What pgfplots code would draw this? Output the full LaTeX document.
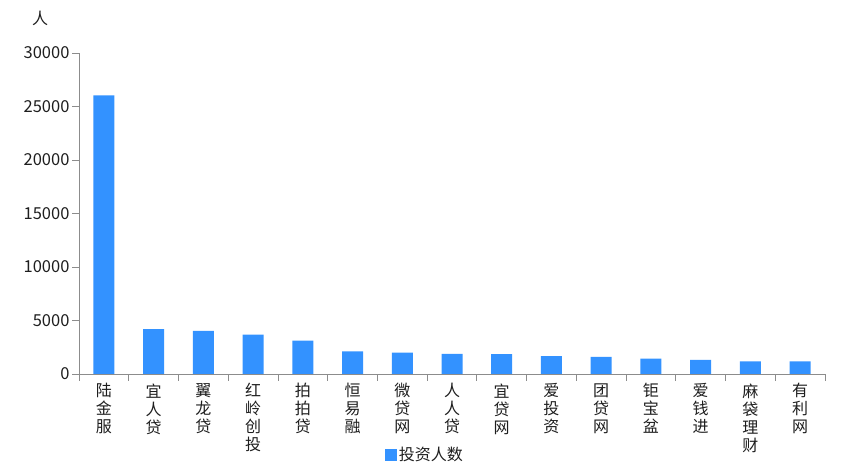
\documentclass[border=0pt]{standalone}
\usepackage{pgfplots}
\pgfplotsset{compat=1.18}
\usepackage{fontspec}
\setmainfont{Noto Sans CJK SC}
\definecolor{barblue}{RGB}{51,146,255}
\definecolor{axisgray}{RGB}{140,140,140}
\definecolor{txt}{RGB}{30,30,30}
\begin{document}
\begin{tikzpicture}
\useasboundingbox (-79pt,-102pt) rectangle (773pt,374pt);
\begin{axis}[
scale only axis,
width=746pt,
height=321pt,
axis lines*=left,
axis line style={axisgray, line width=0.8pt},
xmin=-0.5, xmax=14.5,
ymin=0, ymax=30000,
ytick={0,5000,...,30000},
scaled y ticks=false,
/pgf/number format/1000 sep={},
/pgf/number format/assume math mode=true,
tick align=outside,
major tick length=7pt,
minor tick length=7pt,
every tick/.style={axisgray, line width=0.8pt},
xtick={0,...,14},
major x tick style={draw=none},
minor xtick={-0.5,0.5,...,14.5},
xticklabels={陆\\金\\服,宜\\人\\贷,翼\\龙\\贷,红\\岭\\创\\投,拍\\拍\\贷,恒\\易\\融,微\\贷\\网,人\\人\\贷,宜\\贷\\网,爱\\投\\资,团\\贷\\网,钜\\宝\\盆,爱\\钱\\进,麻\\袋\\理\\财,有\\利\\网},
xticklabel style={align=center, anchor=north, font=\fontsize{16}{18}\selectfont, text=txt, yshift=1pt},
yticklabel style={font=\fontsize{16.5}{18}\selectfont, text=txt, xshift=1pt},
ylabel={人},
ylabel style={rotate=-90, at={(axis description cs:-0.052,1.109)}, anchor=center, font=\fontsize{16}{18}\selectfont, text=txt},
legend style={draw=none, fill=none, at={(axis description cs:0.464,-0.252)}, anchor=center, font=\fontsize{16}{18}\selectfont, text=txt, inner sep=0pt},
legend image code/.code={\fill[barblue] (0cm,-0.22cm) rectangle (0.4cm,0.22cm);},
]
\addplot [ybar, bar width=21pt, fill=barblue, draw=none] coordinates {
(0,26050) (1,4200) (2,4040) (3,3670) (4,3110) (5,2110) (6,1990) (7,1870)
(8,1860) (9,1680) (10,1590) (11,1430) (12,1330) (13,1180) (14,1170)
};
\legend{投资人数}
\end{axis}
\end{tikzpicture}
\end{document}
